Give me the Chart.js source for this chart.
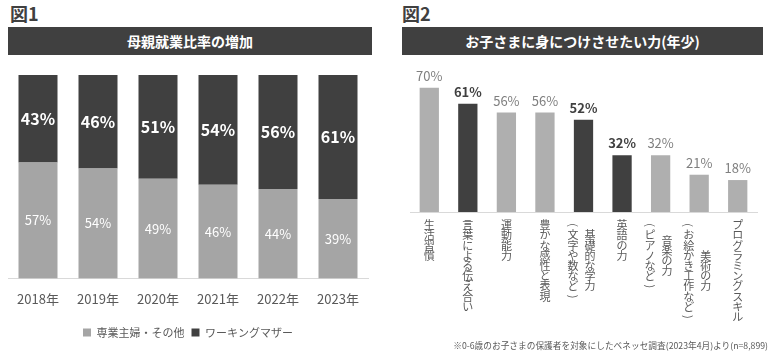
<!DOCTYPE html>
<html lang="ja">
<head>
<meta charset="utf-8">
<script src="https://cdn.jsdelivr.net/npm/chart.js@4"></script>
<style>
  body { margin: 0; width: 773px; height: 361px; background: #fff; position: relative; overflow: hidden;
         font-family: "Noto Sans CJK JP", sans-serif; }
  .fig { position: absolute; top: 0px; font-size: 18px; font-weight: bold; color: #404040; }
  .bar-title { position: absolute; top: 27px; height: 28px; line-height: 28px; background: #404040;
               color: #fff; font-weight: bold; font-size: 14px; text-align: center; }
  canvas { position: absolute; }
  .note { position: absolute; right: 5px; top: 339px; font-size: 8.7px; color: #595959; white-space: nowrap; }
</style>
</head>
<body>
<div class="fig" style="left:10px">図1</div>
<div class="fig" style="left:402px">図2</div>
<div class="bar-title" style="left:8px; width:364px">母親就業比率の増加</div>
<div class="bar-title" style="left:402px; width:361px">お子さまに身につけさせたい力(年少)</div>
<canvas id="chart1" width="385" height="301" style="left:0; top:60px"></canvas>
<canvas id="chart2" width="378" height="301" style="left:395px; top:60px"></canvas>
<div class="note">※0-6歳のお子さまの保護者を対象にしたベネッセ調査(2023年4月)より(n=8,899)</div>

<script>
// 図1 data
const years = ['2018年', '2019年', '2020年', '2021年', '2022年', '2023年'];
const housewife = [57, 54, 49, 46, 44, 39];
const workingMother = [43, 46, 51, 54, 56, 61];

// 図2 data (each label: columns of vertical text, right column first)
const skillLabels = [
  ['生活習慣'],
  ['言葉による伝え合い'],
  ['運動能力'],
  ['豊かな感性と表現'],
  ['基礎的な学力', '(文字や数など)'],
  ['英語の力'],
  ['音楽の力', '(ピアノなど)'],
  ['美術の力', '(お絵かき工作など)'],
  ['プログラミングスキル']
];
const skillValues = [70, 61, 56, 56, 52, 32, 32, 21, 18];
const highlighted = [false, true, false, false, true, true, false, false, false];

const DARK = '#404040';
const GRAY = '#a5a5a5';
const GRAY2 = '#afafaf';
const FONT = '"Noto Sans CJK JP", sans-serif';

// labels inside the stacked bars
const stackLabels = {
  id: 'stackLabels',
  afterDatasetsDraw(chart) {
    const ctx = chart.ctx;
    ctx.save();
    ctx.textAlign = 'center';
    ctx.textBaseline = 'middle';
    ctx.fillStyle = '#fff';
    chart.data.datasets.forEach((ds, di) => {
      const meta = chart.getDatasetMeta(di);
      ctx.font = di === 1 ? 'bold 16px ' + FONT : '13px ' + FONT;
      meta.data.forEach((bar, i) => {
        ctx.fillText(ds.data[i] + '%', bar.x, (bar.y + bar.base) / 2);
      });
    });
    ctx.restore();
  }
};

// value labels above bars + vertical category text
const skillText = {
  id: 'skillText',
  afterDatasetsDraw(chart) {
    const ctx = chart.ctx;
    const meta = chart.getDatasetMeta(0);
    ctx.save();
    ctx.textAlign = 'center';
    ctx.textBaseline = 'middle';
    meta.data.forEach((bar, i) => {
      ctx.font = (highlighted[i] ? 'bold ' : '') + '13px ' + FONT;
      ctx.fillStyle = highlighted[i] ? DARK : '#7f7f7f';
      ctx.fillText(skillValues[i] + '%', bar.x, bar.y - 12);
    });

    const step = 10.2;
    const top = 160;
    ctx.font = '11px ' + FONT;
    ctx.fillStyle = '#595959';
    skillLabels.forEach((cols, i) => {
      const x = chart.scales.x.getPixelForValue(i);
      const maxLen = Math.max(...cols.map(c => c.length));
      cols.forEach((col, ci) => {
        let cx = x;
        if (cols.length > 1) cx = ci === 0 ? x + 6.5 : x - 10.5;
        const y0 = top + (maxLen - col.length) * step / 2;
        [...col].forEach((ch, k) => {
          const cy = y0 + k * step + step / 2;
          if (ch === '(' || ch === ')') {
            ctx.save();
            ctx.translate(cx, cy);
            ctx.rotate(Math.PI / 2);
            ctx.fillText(ch, 0, 0);
            ctx.restore();
          } else {
            ctx.fillText(ch, cx, cy);
          }
        });
      });
    });
    ctx.restore();
  }
};

new Chart(document.getElementById('chart1'), {
  type: 'bar',
  data: {
    labels: years,
    datasets: [
      { label: '専業主婦・その他', data: housewife, backgroundColor: GRAY },
      { label: 'ワーキングマザー', data: workingMother, backgroundColor: DARK }
    ]
  },
  options: {
    responsive: false,
    animation: false,
    layout: { padding: { left: 8, right: 17, top: 15, bottom: 13 } },
    datasets: { bar: { categoryPercentage: 1, barPercentage: 0.65 } },
    plugins: {
      tooltip: { enabled: false },
      legend: {
        position: 'bottom',
        labels: { boxWidth: 8, boxHeight: 8, padding: 7, color: '#595959', font: { family: FONT, size: 11 } }
      }
    },
    scales: {
      x: {
        stacked: true,
        grid: { display: true, drawOnChartArea: false, drawTicks: false },
        border: { color: '#d9d9d9' },
        ticks: { padding: 13, color: '#595959', font: { family: FONT, size: 13 } }
      },
      y: { stacked: true, min: 0, max: 100, display: false }
    }
  },
  plugins: [stackLabels]
});

new Chart(document.getElementById('chart2'), {
  type: 'bar',
  data: {
    labels: skillLabels.map(c => c.join('')),
    datasets: [{
      data: skillValues,
      backgroundColor: highlighted.map(h => h ? DARK : GRAY2)
    }]
  },
  options: {
    responsive: false,
    animation: false,
    layout: { padding: { left: 15, right: 16, top: 10, bottom: 149 } },
    datasets: { bar: { categoryPercentage: 1, barPercentage: 0.5 } },
    plugins: { legend: { display: false }, tooltip: { enabled: false } },
    scales: {
      x: {
        grid: { display: true, drawOnChartArea: false, drawTicks: false },
        border: { color: '#d9d9d9' },
        ticks: { display: false }
      },
      y: { min: 0, max: 80, display: false }
    }
  },
  plugins: [skillText]
});
</script>
</body>
</html>
